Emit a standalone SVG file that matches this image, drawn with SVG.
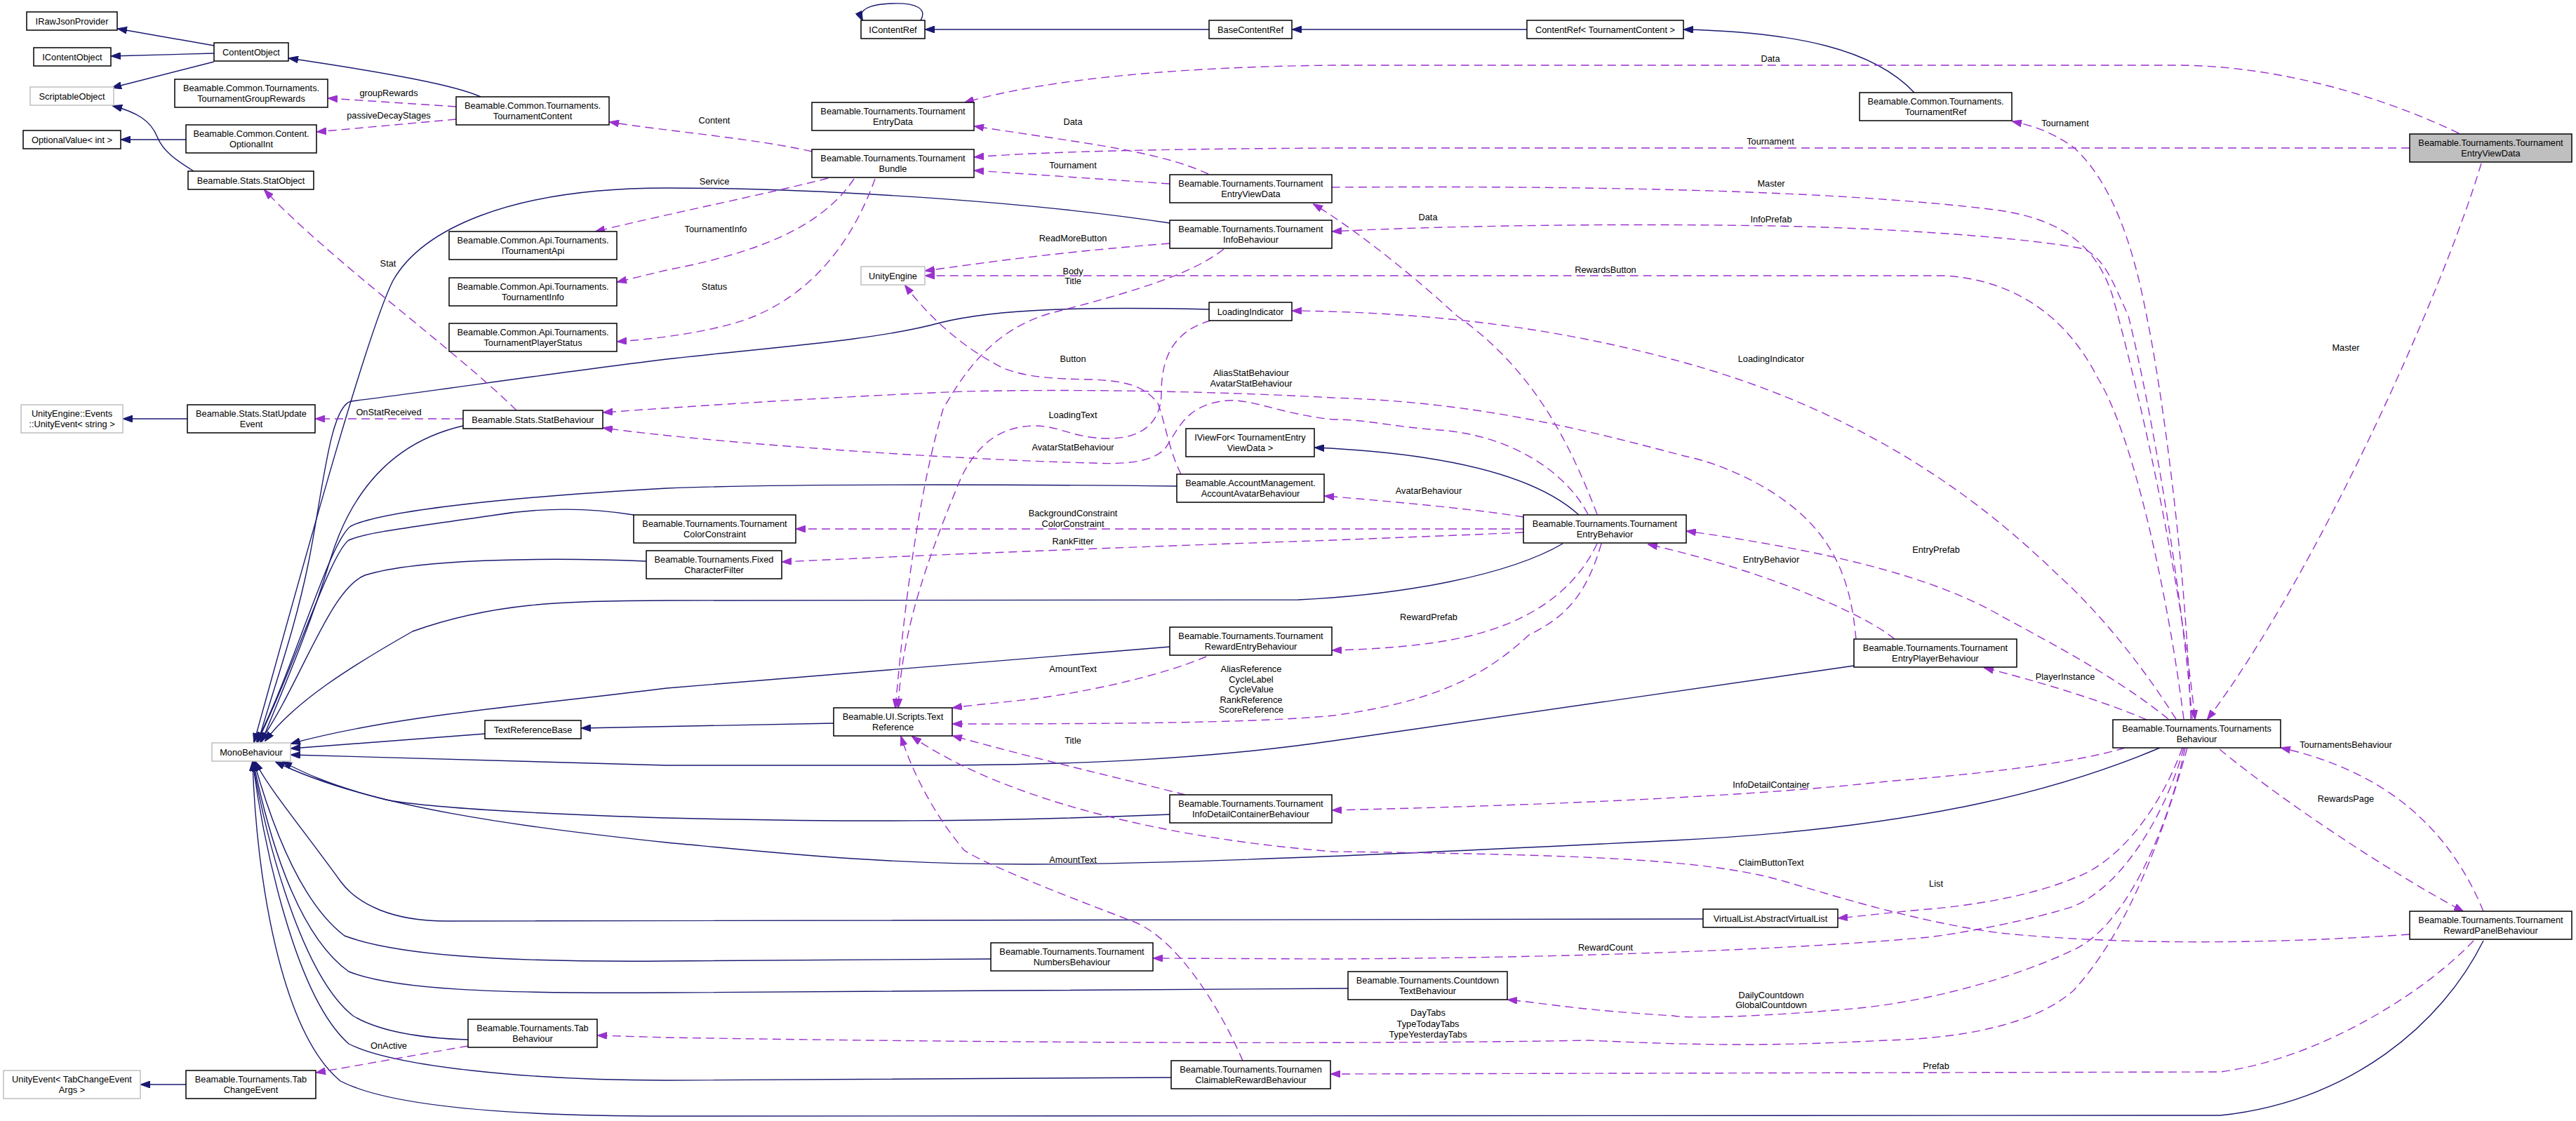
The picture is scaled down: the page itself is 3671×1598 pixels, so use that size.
<svg xmlns="http://www.w3.org/2000/svg" width="3671" height="1598" viewBox="0 0 3671 1598">
<style>
.bg{fill:#fff}
.node rect{fill:#fff;stroke:#000;stroke-width:1.5}
.node.ext rect{stroke:#bfbfbf}
.node.focal rect{fill:#bfbfbf}
text{font-family:"Liberation Sans",Arial,Helvetica,sans-serif;font-size:12.8px;fill:#000}
.node text{text-anchor:middle}
.lbl{text-anchor:middle}
.inh{fill:none;stroke:#191970;stroke-width:1.4;marker-end:url(#ah)}
.use{fill:none;stroke:#9a32cd;stroke-width:1.4;stroke-dasharray:12,7;marker-end:url(#au)}
</style>
<defs>
<marker id="ah" viewBox="0 0 14 10" refX="13" refY="5" markerWidth="14" markerHeight="10" markerUnits="userSpaceOnUse" orient="auto"><path d="M0,0 L14,5 L0,10 z" fill="#191970" stroke="#191970"/></marker>
<marker id="au" viewBox="0 0 14 10" refX="13" refY="5" markerWidth="14" markerHeight="10" markerUnits="userSpaceOnUse" orient="auto"><path d="M0,0 L14,5 L0,10 z" fill="#9a32cd" stroke="#9a32cd"/></marker>
</defs>
<rect class="bg" x="0" y="0" width="3671" height="1598"/>

<g id="connectors">
<!-- inheritance -->
<path class="inh" d="M305,65 L168,41"/>
<path class="inh" d="M305,76 L159,80"/>
<path class="inh" d="M305,88 L160,125"/>
<path class="inh" d="M685,138 C650,122 560,105 412,83"/>
<path class="inh" d="M265,199 L173,199"/>
<path class="inh" d="M276,244 C250,228 232,215 224,195 C215,172 195,160 161,151"/>
<path class="inh" d="M2176,42 L1842,42"/>
<path class="inh" d="M1723,42 L1319,42"/>
<path class="inh" d="M1312,29 C1322,12 1305,4 1272,5 C1238,6 1222,14 1229,29"/>
<path class="inh" d="M2728,132 C2670,70 2560,46 2400,42"/>
<path class="inh" d="M267,597 L176,597"/>
<path class="inh" d="M265,1546 L201,1546"/>
<path class="inh" d="M1188,1031 L829,1038"/>
<path class="inh" d="M2250,734 C2180,670 2030,645 1874,638"/>
<path class="inh" d="M1667,318 C1450,285 1150,268 950,268 C720,268 600,330 560,400 C520,480 420,850 362,1058"/>
<path class="inh" d="M1723,441 C1550,437 1420,440 1340,460 C1250,485 1100,495 950,512 C800,530 600,560 500,572 C470,580 460,700 440,800 C420,900 390,980 368,1057"/>
<path class="inh" d="M660,607 C560,630 500,700 470,800 C440,900 400,990 373,1057"/>
<path class="inh" d="M1677,693 C1400,690 1100,690 950,696 C700,710 540,730 500,750 C470,770 420,950 366,1057"/>
<path class="inh" d="M903,734 C830,722 760,725 700,735 C560,755 520,760 497,770 C470,790 420,950 367,1057"/>
<path class="inh" d="M921,800 C800,795 600,795 520,820 C470,840 430,970 371,1057"/>
<path class="inh" d="M2227,775 C2150,820 2000,848 1850,855 L950,856 C800,856 700,860 588,900 C500,950 420,1000 378,1056"/>
<path class="inh" d="M1667,922 L950,981 C760,1005 560,1020 415,1060"/>
<path class="inh" d="M691,1046 L415,1067"/>
<path class="inh" d="M2642,949 L1900,1056 C1700,1085 1500,1091 1300,1091 L950,1091 L415,1076"/>
<path class="inh" d="M1667,1161 C1400,1172 1200,1172 950,1166 C750,1160 600,1150 550,1140 C470,1120 430,1100 403,1086"/>
<path class="inh" d="M3078,1066 C2950,1120 2750,1180 2385,1198 C2100,1212 1700,1232 1465,1232 C1250,1232 1100,1215 950,1201 C750,1180 520,1150 393,1086"/>
<path class="inh" d="M2427,1310 L636,1313 C560,1313 510,1290 485,1256 C430,1180 380,1120 364,1086"/>
<path class="inh" d="M1412,1367 L950,1370 C700,1372 560,1360 491,1334 C420,1280 380,1150 362,1086"/>
<path class="inh" d="M1921,1409 L950,1415 C700,1417 560,1410 497,1385 C420,1330 380,1180 361,1086"/>
<path class="inh" d="M667,1482 C600,1480 540,1470 503,1448 C430,1390 380,1200 360,1086"/>
<path class="inh" d="M1669,1536 L950,1540 C750,1540 560,1520 497,1488 C420,1420 375,1200 360,1086"/>
<path class="inh" d="M3539,1341 C3480,1460 3350,1570 3164,1590 L950,1591 C750,1591 560,1580 485,1541 C400,1470 365,1250 360,1086"/>

<!-- usage -->
<path class="use" d="M650,152 L468,140"/>
<path class="use" d="M650,170 L452,188"/>
<path class="use" d="M1157,216 C1080,198 950,187 869,174"/>
<path class="use" d="M1180,254 C1100,275 950,305 849,330"/>
<path class="use" d="M1217,255 C1180,310 1110,355 950,385 L880,402"/>
<path class="use" d="M1247,255 C1220,330 1170,410 1077,450 C1030,470 950,482 880,487"/>
<path class="use" d="M1722,248 C1650,215 1550,205 1389,180"/>
<path class="use" d="M1667,262 L1389,243"/>
<path class="use" d="M3504,190 C3400,140 3250,93 3100,93 L1900,93 C1700,95 1500,110 1375,146"/>
<path class="use" d="M3434,211 L1900,211 C1700,212 1500,215 1389,224"/>
<path class="use" d="M3536,233 C3480,420 3300,820 3146,1025"/>
<path class="use" d="M3122,1025 C3115,800 3080,550 3059,450 C3040,350 3010,260 2955,210 C2920,185 2890,178 2868,173"/>
<path class="use" d="M1898,267 C2200,265 2600,268 2850,300 C2950,315 2990,360 3010,420 C3060,600 3110,850 3128,1025"/>
<path class="use" d="M3124,1025 C3110,850 3070,600 3033,450 C3010,400 3000,370 2970,355 C2900,340 2700,325 2524,322 C2300,318 2050,322 1899,330"/>
<path class="use" d="M3112,1025 C3090,850 3040,620 2990,540 C2950,460 2880,400 2772,393 L1319,393"/>
<path class="use" d="M3101,1025 C3060,960 3000,880 2930,817 C2850,740 2700,610 2445,530 C2250,470 2050,445 1842,443"/>
<path class="use" d="M3090,1025 C3010,960 2900,905 2850,877 C2750,820 2600,785 2404,757"/>
<path class="use" d="M3059,1026 C3000,1000 2900,970 2828,952"/>
<path class="use" d="M2700,911 C2650,870 2500,810 2349,776"/>
<path class="use" d="M2645,911 C2640,860 2630,790 2567,733 C2520,690 2450,660 2400,650 C2250,610 2100,573 1900,567 C1700,556 1500,555 1374,558 C1200,565 1000,578 860,588"/>
<path class="use" d="M2263,733 C2230,670 2150,620 2051,613 C1980,608 1950,598 1900,598 C1820,590 1780,565 1740,572 C1690,580 1680,610 1660,640 C1640,660 1600,662 1556,660 C1350,655 1000,630 860,610"/>
<path class="use" d="M2171,737 C2100,725 1950,712 1888,707"/>
<path class="use" d="M2171,754 L1135,754"/>
<path class="use" d="M2171,759 C2080,763 2000,766 1900,770 C1600,780 1300,792 1115,801"/>
<path class="use" d="M2276,775 C2250,830 2200,875 2118,900 C2060,918 1980,925 1899,927"/>
<path class="use" d="M2282,775 C2260,850 2230,880 2179,905 C2120,960 2050,1000 1900,1020 C1800,1030 1600,1032 1358,1032"/>
<path class="use" d="M2276,733 C2240,640 2190,530 2076,450 C2000,380 1920,320 1872,291"/>
<path class="use" d="M1667,347 C1500,360 1400,375 1319,386"/>
<path class="use" d="M1744,355 C1700,390 1620,415 1495,447 C1420,470 1380,520 1344,583 C1310,700 1290,850 1276,1009"/>
<path class="use" d="M1725,457 C1680,470 1655,500 1655,560 C1655,600 1630,625 1580,625 C1530,625 1510,607 1475,607 C1420,607 1390,640 1370,680 C1320,800 1285,900 1280,1009"/>
<path class="use" d="M1683,676 C1665,640 1660,600 1650,575 C1630,548 1600,543 1556,541 C1500,540 1465,538 1430,525 C1380,500 1330,460 1290,407"/>
<path class="use" d="M736,585 C650,500 470,370 377,271"/>
<path class="use" d="M660,597 L450,597"/>
<path class="use" d="M1719,936 C1650,965 1550,985 1495,993 C1450,1000 1400,1003 1358,1009"/>
<path class="use" d="M1689,1133 C1600,1110 1500,1088 1358,1049"/>
<path class="use" d="M3434,1332 C3200,1348 3000,1345 2850,1330 C2700,1310 2550,1255 2506,1247 C2400,1225 2250,1218 1900,1214 C1600,1190 1400,1120 1300,1050"/>
<path class="use" d="M1771,1512 C1740,1440 1680,1340 1616,1314 C1500,1270 1400,1230 1374,1212 C1330,1160 1300,1100 1284,1050"/>
<path class="use" d="M667,1491 L451,1529"/>
<path class="use" d="M3117,1066 C3080,1200 3030,1330 2955,1412 C2900,1460 2800,1480 2688,1483 C2550,1490 2450,1492 2264,1483 C2000,1488 1500,1488 950,1479 L852,1476"/>
<path class="use" d="M3114,1066 C3090,1180 3030,1320 2955,1354 C2880,1390 2750,1430 2627,1439 C2500,1450 2400,1452 2385,1448 C2250,1440 2200,1430 2149,1425"/>
<path class="use" d="M3112,1066 C3090,1150 3030,1260 2955,1292 C2900,1310 2800,1330 2748,1336 C2600,1350 2300,1365 1900,1367 L1644,1366"/>
<path class="use" d="M3110,1066 C3080,1150 3020,1230 2955,1252 C2900,1275 2820,1290 2748,1296 C2700,1300 2660,1305 2620,1309"/>
<path class="use" d="M3028,1066 C2950,1090 2800,1105 2688,1114 C2500,1135 2200,1148 1899,1155"/>
<path class="use" d="M3163,1068 C3250,1140 3400,1240 3510,1299"/>
<path class="use" d="M3539,1299 C3490,1180 3400,1100 3251,1066"/>
<path class="use" d="M3525,1341 C3450,1420 3300,1510 3164,1528 L1897,1531"/>

<!-- labels -->
<text class="lbl" x="554" y="137">groupRewards</text>
<text class="lbl" x="554" y="169">passiveDecayStages</text>
<text class="lbl" x="1018" y="176">Content</text>
<text class="lbl" x="1018" y="263">Service</text>
<text class="lbl" x="1020" y="331">TournamentInfo</text>
<text class="lbl" x="1018" y="413">Status</text>
<text class="lbl" x="1529" y="178">Data</text>
<text class="lbl" x="1529" y="240">Tournament</text>
<text class="lbl" x="2523" y="88">Data</text>
<text class="lbl" x="2523" y="206">Tournament</text>
<text class="lbl" x="2524" y="266">Master</text>
<text class="lbl" x="2035" y="314">Data</text>
<text class="lbl" x="2524" y="317">InfoPrefab</text>
<text class="lbl" x="1529" y="344">ReadMoreButton</text>
<text class="lbl" x="1529" y="391">Body</text>
<text class="lbl" x="1529" y="405">Title</text>
<text class="lbl" x="2288" y="389">RewardsButton</text>
<text class="lbl" x="2943" y="180">Tournament</text>
<text class="lbl" x="3343" y="500">Master</text>
<text class="lbl" x="553" y="380">Stat</text>
<text class="lbl" x="554" y="592">OnStatReceived</text>
<text class="lbl" x="1529" y="516">Button</text>
<text class="lbl" x="1783" y="536">AliasStatBehaviour</text>
<text class="lbl" x="1783" y="551">AvatarStatBehaviour</text>
<text class="lbl" x="2524" y="516">LoadingIndicator</text>
<text class="lbl" x="1529" y="596">LoadingText</text>
<text class="lbl" x="1529" y="642">AvatarStatBehaviour</text>
<text class="lbl" x="2036" y="704">AvatarBehaviour</text>
<text class="lbl" x="1529" y="736">BackgroundConstraint</text>
<text class="lbl" x="1529" y="751">ColorConstraint</text>
<text class="lbl" x="1529" y="776">RankFitter</text>
<text class="lbl" x="2759" y="788">EntryPrefab</text>
<text class="lbl" x="2524" y="802">EntryBehavior</text>
<text class="lbl" x="2036" y="884">RewardPrefab</text>
<text class="lbl" x="1529" y="958">AmountText</text>
<text class="lbl" x="1783" y="958">AliasReference</text>
<text class="lbl" x="1783" y="973">CycleLabel</text>
<text class="lbl" x="1783" y="987">CycleValue</text>
<text class="lbl" x="1783" y="1002">RankReference</text>
<text class="lbl" x="1783" y="1016">ScoreReference</text>
<text class="lbl" x="2943" y="969">PlayerInstance</text>
<text class="lbl" x="1529" y="1060">Title</text>
<text class="lbl" x="3343" y="1066">TournamentsBehaviour</text>
<text class="lbl" x="2524" y="1123">InfoDetailContainer</text>
<text class="lbl" x="3343" y="1143">RewardsPage</text>
<text class="lbl" x="1529" y="1230">AmountText</text>
<text class="lbl" x="2524" y="1234">ClaimButtonText</text>
<text class="lbl" x="2759" y="1264">List</text>
<text class="lbl" x="2288" y="1355">RewardCount</text>
<text class="lbl" x="2524" y="1423">DailyCountdown</text>
<text class="lbl" x="2524" y="1437">GlobalCountdown</text>
<text class="lbl" x="2035" y="1448">DayTabs</text>
<text class="lbl" x="2035" y="1464">TypeTodayTabs</text>
<text class="lbl" x="2035" y="1479">TypeYesterdayTabs</text>
<text class="lbl" x="554" y="1495">OnActive</text>
<text class="lbl" x="2759" y="1524">Prefab</text>
</g>

<g id="n_irawjson" class="node"><rect x="38" y="17" width="129" height="26"/><text x="102.5" y="34.5">IRawJsonProvider</text></g>
<g id="n_icontentobject" class="node"><rect x="48" y="68" width="110" height="26"/><text x="103" y="85.5">IContentObject</text></g>
<g id="n_scriptableobject" class="node ext"><rect x="43" y="124" width="119" height="26"/><text x="102.5" y="141.5">ScriptableObject</text></g>
<g id="n_optionalvalue" class="node"><rect x="33" y="186" width="139" height="26"/><text x="102.5" y="203.5">OptionalValue&lt; int &gt;</text></g>
<g id="n_contentobject" class="node"><rect x="305" y="61" width="106" height="26"/><text x="358" y="78.5">ContentObject</text></g>
<g id="n_groupRewards" class="node"><rect x="249" y="113" width="218" height="40"/><text x="358" y="129.5">Beamable.Common.Tournaments.</text><text x="358" y="144.5">TournamentGroupRewards</text></g>
<g id="n_optionalint" class="node"><rect x="265" y="178" width="186" height="40"/><text x="358" y="194.5">Beamable.Common.Content.</text><text x="358" y="209.5">OptionalInt</text></g>
<g id="n_statobject" class="node"><rect x="268" y="244" width="179" height="26"/><text x="357.5" y="261.5">Beamable.Stats.StatObject</text></g>
<g id="n_tournamentcontent" class="node"><rect x="650" y="138" width="218" height="40"/><text x="759" y="154.5">Beamable.Common.Tournaments.</text><text x="759" y="169.5">TournamentContent</text></g>
<g id="n_itournamentapi" class="node"><rect x="640" y="330" width="239" height="40"/><text x="759.5" y="346.5">Beamable.Common.Api.Tournaments.</text><text x="759.5" y="361.5">ITournamentApi</text></g>
<g id="n_tournamentinfo" class="node"><rect x="640" y="396" width="239" height="40"/><text x="759.5" y="412.5">Beamable.Common.Api.Tournaments.</text><text x="759.5" y="427.5">TournamentInfo</text></g>
<g id="n_playerstatus" class="node"><rect x="640" y="461" width="239" height="40"/><text x="759.5" y="477.5">Beamable.Common.Api.Tournaments.</text><text x="759.5" y="492.5">TournamentPlayerStatus</text></g>
<g id="n_unityeventstring" class="node ext"><rect x="30" y="577" width="145" height="40"/><text x="102.5" y="593.5">UnityEngine::Events</text><text x="102.5" y="608.5">::UnityEvent&lt; string &gt;</text></g>
<g id="n_statupdateevent" class="node"><rect x="267" y="577" width="182" height="40"/><text x="358" y="593.5">Beamable.Stats.StatUpdate</text><text x="358" y="608.5">Event</text></g>
<g id="n_statbehaviour" class="node"><rect x="660" y="585" width="199" height="26"/><text x="759.5" y="602.5">Beamable.Stats.StatBehaviour</text></g>
<g id="n_monobehaviour" class="node ext"><rect x="302" y="1059" width="112" height="26"/><text x="358" y="1076.5">MonoBehaviour</text></g>
<g id="n_textreferencebase" class="node"><rect x="691" y="1027" width="137" height="26"/><text x="759.5" y="1044.5">TextReferenceBase</text></g>
<g id="n_tabbehaviour" class="node"><rect x="667" y="1453" width="184" height="40"/><text x="759" y="1469.5">Beamable.Tournaments.Tab</text><text x="759" y="1484.5">Behaviour</text></g>
<g id="n_tabchangeevent" class="node"><rect x="265" y="1526" width="185" height="40"/><text x="357.5" y="1542.5">Beamable.Tournaments.Tab</text><text x="357.5" y="1557.5">ChangeEvent</text></g>
<g id="n_unityeventtab" class="node ext"><rect x="5" y="1526" width="195" height="40"/><text x="102.5" y="1542.5">UnityEvent&lt; TabChangeEvent</text><text x="102.5" y="1557.5">Args &gt;</text></g>
<g id="n_colorconstraint" class="node"><rect x="903" y="734" width="231" height="40"/><text x="1018.5" y="750.5">Beamable.Tournaments.Tournament</text><text x="1018.5" y="765.5">ColorConstraint</text></g>
<g id="n_fixedfilter" class="node"><rect x="921" y="785" width="193" height="40"/><text x="1017.5" y="801.5">Beamable.Tournaments.Fixed</text><text x="1017.5" y="816.5">CharacterFilter</text></g>
<g id="n_icontentref" class="node"><rect x="1227" y="29" width="91" height="26"/><text x="1272.5" y="46.5">IContentRef</text></g>
<g id="n_basecontentref" class="node"><rect x="1723" y="29" width="118" height="26"/><text x="1782" y="46.5">BaseContentRef</text></g>
<g id="n_contentref" class="node"><rect x="2176" y="29" width="223" height="26"/><text x="2287.5" y="46.5">ContentRef&lt; TournamentContent &gt;</text></g>
<g id="n_tournamentref" class="node"><rect x="2650" y="132" width="217" height="40"/><text x="2758.5" y="148.5">Beamable.Common.Tournaments.</text><text x="2758.5" y="163.5">TournamentRef</text></g>
<g id="n_entrydata" class="node"><rect x="1157" y="146" width="231" height="40"/><text x="1272.5" y="162.5">Beamable.Tournaments.Tournament</text><text x="1272.5" y="177.5">EntryData</text></g>
<g id="n_bundle" class="node"><rect x="1157" y="213" width="231" height="40"/><text x="1272.5" y="229.5">Beamable.Tournaments.Tournament</text><text x="1272.5" y="244.5">Bundle</text></g>
<g id="n_entryviewdata_mid" class="node"><rect x="1667" y="249" width="231" height="40"/><text x="1782.5" y="265.5">Beamable.Tournaments.Tournament</text><text x="1782.5" y="280.5">EntryViewData</text></g>
<g id="n_infobehaviour" class="node"><rect x="1667" y="314" width="231" height="40"/><text x="1782.5" y="330.5">Beamable.Tournaments.Tournament</text><text x="1782.5" y="345.5">InfoBehaviour</text></g>
<g id="n_unityengine" class="node ext"><rect x="1227" y="380" width="91" height="26"/><text x="1272.5" y="397.5">UnityEngine</text></g>
<g id="n_loadingindicator" class="node"><rect x="1723" y="431" width="118" height="26"/><text x="1782" y="448.5">LoadingIndicator</text></g>
<g id="n_iviewfor" class="node"><rect x="1690" y="611" width="183" height="40"/><text x="1781.5" y="627.5">IViewFor&lt; TournamentEntry</text><text x="1781.5" y="642.5">ViewData &gt;</text></g>
<g id="n_accountavatar" class="node"><rect x="1677" y="676" width="210" height="40"/><text x="1782" y="692.5">Beamable.AccountManagement.</text><text x="1782" y="707.5">AccountAvatarBehaviour</text></g>
<g id="n_entrybehavior" class="node"><rect x="2171" y="734" width="232" height="40"/><text x="2287" y="750.5">Beamable.Tournaments.Tournament</text><text x="2287" y="765.5">EntryBehavior</text></g>
<g id="n_rewardentry" class="node"><rect x="1667" y="894" width="231" height="40"/><text x="1782.5" y="910.5">Beamable.Tournaments.Tournament</text><text x="1782.5" y="925.5">RewardEntryBehaviour</text></g>
<g id="n_textreference" class="node"><rect x="1188" y="1009" width="169" height="40"/><text x="1272.5" y="1025.5">Beamable.UI.Scripts.Text</text><text x="1272.5" y="1040.5">Reference</text></g>
<g id="n_infodetail" class="node"><rect x="1667" y="1133" width="231" height="40"/><text x="1782.5" y="1149.5">Beamable.Tournaments.Tournament</text><text x="1782.5" y="1164.5">InfoDetailContainerBehaviour</text></g>
<g id="n_numbers" class="node"><rect x="1412" y="1344" width="231" height="40"/><text x="1527.5" y="1360.5">Beamable.Tournaments.Tournament</text><text x="1527.5" y="1375.5">NumbersBehaviour</text></g>
<g id="n_claimable" class="node"><rect x="1669" y="1512" width="227" height="40"/><text x="1782.5" y="1528.5">Beamable.Tournaments.Tournamen</text><text x="1782.5" y="1543.5">ClaimableRewardBehaviour</text></g>
<g id="n_entryplayer" class="node"><rect x="2642" y="911" width="232" height="40"/><text x="2758" y="927.5">Beamable.Tournaments.Tournament</text><text x="2758" y="942.5">EntryPlayerBehaviour</text></g>
<g id="n_virtuallist" class="node"><rect x="2427" y="1296" width="192" height="26"/><text x="2523" y="1313.5">VirtualList.AbstractVirtualList</text></g>
<g id="n_countdown" class="node"><rect x="1921" y="1385" width="227" height="40"/><text x="2034.5" y="1401.5">Beamable.Tournaments.Countdown</text><text x="2034.5" y="1416.5">TextBehaviour</text></g>
<g id="n_tournamentsbehaviour" class="node"><rect x="3011" y="1026" width="239" height="40"/><text x="3130.5" y="1042.5">Beamable.Tournaments.Tournaments</text><text x="3130.5" y="1057.5">Behaviour</text></g>
<g id="n_rewardpanel" class="node"><rect x="3434" y="1299" width="231" height="40"/><text x="3549.5" y="1315.5">Beamable.Tournaments.Tournament</text><text x="3549.5" y="1330.5">RewardPanelBehaviour</text></g>
<g id="n_entryviewdata" class="node focal"><rect x="3434" y="191" width="231" height="40"/><text x="3549.5" y="207.5">Beamable.Tournaments.Tournament</text><text x="3549.5" y="222.5">EntryViewData</text></g>
</svg>
